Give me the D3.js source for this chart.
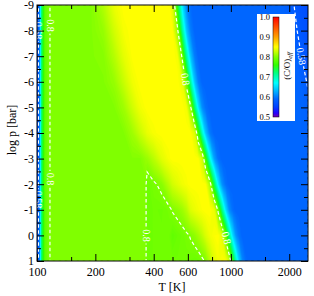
<!DOCTYPE html>
<html>
<head>
<meta charset="utf-8">
<script src="https://cdn.jsdelivr.net/npm/d3@7"></script>
<style>
  body { margin: 0; background: #fff; }
  #graf svg { display: block; font-family: 'Liberation Serif', 'Times New Roman', serif; }
  .eje path { display: none; }
  .eje line { stroke: #000; stroke-width: 1; }
  .eje text { font-size: 12px; fill: #000; font-family: 'Liberation Serif', 'Times New Roman', serif; }
</style>
</head>
<body>
<div id="graf"></div>
<script>
// I.
logP = [-9, -8, -7, -6, -5, -4, -3, -2, -1, 0, 1]
tempK = [100, 103, 106, 110, 115, 120, 150, 190, 220, 250, 280, 310, 340, 365, 370, 400, 440, 480,
         500, 530, 560, 590, 620, 650, 680, 710, 740, 780, 820, 860, 900, 940, 980, 1020, 1060, 1100,
         1150, 1200, 1300, 1500, 1800, 2100, 2300, 2500]

// (C/O)eff, una fila por cada log p (de -9 a 1), una columna por cada T
coRatio = [
  [.56, .595, .73, .785, .799, .802, .802, .802, .820, .843, .852, .852, .852, .852, .852, .852, .852, .851, .837, .750, .662, .609,
   .593, .59, .59, .59, .59, .59, .59, .59, .59, .59, .59, .59, .59, .59, .59, .59, .59, .59, .59, .581, .570, .565],
  [.56, .595, .73, .785, .799, .802, .802, .802, .810, .832, .848, .852, .852, .852, .852, .852, .852, .852, .851, .809, .716, .641,
   .603, .591, .59, .59, .59, .59, .59, .59, .59, .59, .59, .59, .59, .59, .59, .59, .59, .59, .59, .585, .575, .568],
  [.56, .595, .73, .785, .799, .802, .802, .802, .804, .821, .840, .851, .852, .852, .852, .852, .852, .852, .852, .848, .796, .708,
   .640, .603, .591, .59, .59, .59, .59, .59, .59, .59, .59, .59, .59, .59, .59, .59, .59, .59, .59, .59, .5805, .574],
  [.56, .595, .73, .785, .799, .802, .802, .802, .802, .810, .828, .845, .852, .852, .852, .852, .852, .852, .852, .852, .844, .788,
   .706, .640, .603, .591, .59, .59, .59, .59, .59, .59, .59, .59, .59, .59, .59, .59, .59, .59, .59, .59, .588, .578],
  [.56, .595, .73, .785, .799, .802, .802, .802, .802, .802, .813, .831, .846, .851, .852, .852, .852, .852, .852, .852, .852, .847,
   .805, .726, .658, .613, .597, .59, .59, .59, .59, .59, .59, .59, .59, .59, .59, .59, .59, .59, .59, .59, .59, .585],
  [.56, .595, .73, .785, .799, .802, .802, .802, .802, .802, .802, .813, .828, .839, .842, .849, .852, .852, .852, .852, .852, .852,
   .851, .837, .770, .696, .641, .601, .59, .59, .59, .59, .59, .59, .59, .59, .59, .59, .59, .59, .59, .59, .59, .588],
  [.56, .595, .73, .785, .799, .802, .802, .802, .802, .802, .802, .802, .802, .810, .811, .823, .839, .849, .852, .852, .852, .852,
   .852, .852, .850, .832, .768, .679, .622, .597, .59, .59, .59, .59, .59, .59, .59, .59, .59, .59, .59, .59, .59, .59],
  [.56, .595, .73, .785, .799, .802, .802, .802, .802, .802, .802, .802, .802, .8008, .790, .797, .805, .823, .832, .839, .845, .849,
   .852, .852, .852, .852, .851, .816, .734, .661, .614, .596, .59, .59, .59, .59, .59, .59, .59, .59, .59, .59, .59, .59],
  [.56, .595, .73, .785, .799, .802, .802, .802, .802, .802, .802, .802, .802, .8008, .790, .793, .792, .796, .8015, .806, .812, .822,
   .837, .843, .847, .850, .852, .852, .844, .794, .718, .655, .612, .596, .59, .59, .59, .59, .59, .59, .59, .59, .59, .59],
  [.56, .595, .73, .785, .799, .802, .802, .802, .802, .802, .802, .802, .802, .8008, .790, .793, .793, .793, .786, .790, .793, .797,
   .8015, .807, .815, .824, .835, .845, .850, .852, .840, .786, .714, .655, .616, .599, .59, .59, .59, .59, .59, .59, .59, .59],
  [.56, .595, .73, .785, .799, .802, .802, .802, .802, .802, .802, .802, .802, .8008, .790, .793, .793, .793, .793, .793, .793, .793,
   .792, .790, .791, .796, .802, .821, .838, .847, .850, .850, .830, .766, .702, .650, .607, .593, .59, .59, .59, .59, .59, .59]
]

// Contornos marcados y sus etiquetas
nivelesLinea = [0.58, 0.8]
etiquetas = [
  { texto: '0.58', T: 101.7, p: -8.0, ang: 90 },
  { texto: '0.58', T: 101.7, p: -1.4, ang: 90 },
  { texto: '0.8', T: 116.7, p: -8.2, ang: 90 },
  { texto: '0.8', T: 116.7, p: -2.2, ang: 90 },
  { texto: '0.8', T: 584, p: -6.1, ang: 80 },
  { texto: '0.8', T: 950, p: 0.1, ang: 76 },
  { texto: '0.8', T: 365, p: 0.0, ang: 90 },
  { texto: '0.58', T: 2310, p: -7.0, ang: 80 }
]

// Ejes
xMayores = [100, 200, 400, 600, 1000, 2000]
xMenores = [150, 300, 500, 800, 1500]
yMayores = [-9, -8, -7, -6, -5, -4, -3, -2, -1, 0, 1]
yMenores = [-8.5, -7.5, -6.5, -5.5, -4.5, -3.5, -2.5, -1.5, -0.5, 0.5]
barraTicks = [0.5, 0.6, 0.7, 0.8, 0.9, 1.0]

// Paleta (arcoíris)
cmapValores = [0.50, 0.52, 0.55, 0.59, 0.63, 0.67, 0.72, 0.76, 0.80, 0.83, 0.85, 0.90, 1.00]
cmapColores = ['#7000b0', '#2400ff', '#0040ff', '#0066ff', '#00b4ff', '#00ffff', '#00ff80',
               '#30ff00', '#80ff00', '#d0ff00', '#ffff00', '#ffa000', '#ff0000']

// II. Configuración
ancho_total = 314
alto_total = 296

svg = d3.select('#graf').append('svg')
        .attr('width', ancho_total)
        .attr('height', alto_total)

x = d3.scaleLog().domain([100, 2500]).range([37, 308])
y = d3.scaleLinear().domain([-9, 1]).range([5, 261])
color = d3.scaleLinear().domain(cmapValores).range(cmapColores).clamp(true)

// rejilla -> pixeles (las muestras de d3.contours están en i + 0.5)
function rejillaX(gx) {
  k = Math.max(0, Math.min(tempK.length - 1, gx - 0.5))
  i = Math.min(Math.floor(k), tempK.length - 2)
  f = k - i
  lt = Math.log10(tempK[i]) * (1 - f) + Math.log10(tempK[i + 1]) * f
  return x(Math.pow(10, lt))
}
function rejillaY(gy) {
  j = Math.max(0, Math.min(logP.length - 1, gy - 0.5))
  i = Math.min(Math.floor(j), logP.length - 2)
  f = j - i
  return y(logP[i] * (1 - f) + logP[i + 1] * f)
}
proyeccion = d3.geoTransform({
  point: function(px, py) { this.stream.point(rejillaX(px), rejillaY(py)) }
})
camino = d3.geoPath(proyeccion)

valores = coRatio.flat()

defs = svg.append('defs')
defs.append('clipPath').attr('id', 'recorte')
    .append('rect').attr('x', 37).attr('y', 5).attr('width', 271).attr('height', 256)
defs.append('clipPath').attr('id', 'recorteLinea')
    .append('rect').attr('x', 37.7).attr('y', 5.7).attr('width', 269.6).attr('height', 254.6)

mascara = defs.append('mask').attr('id', 'huecos')
              .attr('maskUnits', 'userSpaceOnUse')
              .attr('x', 0).attr('y', 0).attr('width', ancho_total).attr('height', alto_total)
mascara.append('rect').attr('width', ancho_total).attr('height', alto_total).attr('fill', '#fff')
mascara.selectAll('rect.hueco')
       .data(etiquetas)
       .enter()
       .append('rect')
         .attr('class', 'hueco')
         .attr('x', d => -(d.texto.length * 4.4 + 3) / 2)
         .attr('y', -3.5)
         .attr('width', d => d.texto.length * 4.4 + 3)
         .attr('height', 7)
         .attr('transform', d => `translate(${ x(d.T) }, ${ y(d.p) }) rotate(${ d.ang })`)
         .attr('fill', '#000')

// III. Mapa de color (bandas finas rellenas)
niveles = d3.range(0.5, 1.0, 0.0025)
bandas = d3.contours().size([tempK.length, logP.length]).thresholds(niveles)(valores)

svg.append('g')
   .attr('clip-path', 'url(#recorte)')
   .selectAll('path')
   .data(bandas)
   .enter()
   .append('path')
     .attr('d', camino)
     .attr('fill', d => color(d.value))

// IV. Líneas de contorno discontinuas
lineas = d3.contours().size([tempK.length, logP.length]).thresholds(nivelesLinea)(valores)

svg.append('g')
   .attr('clip-path', 'url(#recorteLinea)')
   .append('g')
   .attr('mask', 'url(#huecos)')
   .selectAll('path')
   .data(lineas)
   .enter()
   .append('path')
     .attr('d', camino)
     .attr('fill', 'none')
     .attr('stroke', '#fff')
     .attr('stroke-width', 1.2)
     .attr('stroke-dasharray', '3.5,2.5')

svg.append('g')
   .attr('clip-path', 'url(#recorte)')
   .selectAll('text')
   .data(etiquetas)
   .enter()
   .append('text')
     .attr('transform', d => `translate(${ x(d.T) }, ${ y(d.p) }) rotate(${ d.ang })`)
     .attr('text-anchor', 'middle')
     .attr('dy', '0.35em')
     .attr('fill', '#fff')
     .style('font-size', '10px')
     .text(d => d.texto)

// V. Ejes con marcas hacia dentro
svg.append('g').attr('class', 'eje').attr('transform', 'translate(0, 261)')
   .call(d3.axisBottom(x).tickValues(xMayores).tickSize(-7).tickPadding(6).tickFormat(d => d))
svg.append('g').attr('class', 'eje').attr('transform', 'translate(0, 261)')
   .call(d3.axisBottom(x).tickValues(xMenores).tickSize(-4).tickFormat(''))
svg.append('g').attr('class', 'eje').attr('transform', 'translate(0, 5)')
   .call(d3.axisTop(x).tickValues(xMayores).tickSize(-7).tickFormat(''))
svg.append('g').attr('class', 'eje').attr('transform', 'translate(0, 5)')
   .call(d3.axisTop(x).tickValues(xMenores).tickSize(-4).tickFormat(''))

svg.append('g').attr('class', 'eje').attr('transform', 'translate(37, 0)')
   .call(d3.axisLeft(y).tickValues(yMayores).tickSize(-7).tickPadding(3).tickFormat(d => String(d)))
svg.append('g').attr('class', 'eje').attr('transform', 'translate(37, 0)')
   .call(d3.axisLeft(y).tickValues(yMenores).tickSize(-4).tickFormat(''))
svg.append('g').attr('class', 'eje').attr('transform', 'translate(308, 0)')
   .call(d3.axisRight(y).tickValues(yMayores).tickSize(-7).tickFormat(''))
svg.append('g').attr('class', 'eje').attr('transform', 'translate(308, 0)')
   .call(d3.axisRight(y).tickValues(yMenores).tickSize(-4).tickFormat(''))

svg.append('rect')
   .attr('x', 37).attr('y', 5).attr('width', 271).attr('height', 256)
   .attr('fill', 'none').attr('stroke', '#000').attr('stroke-width', 1)

svg.append('text')
   .attr('x', 172).attr('y', 291)
   .attr('text-anchor', 'middle')
   .style('font-size', '12px')
   .text('T [K]')

svg.append('text')
   .attr('transform', 'translate(16, 130) rotate(-90)')
   .attr('text-anchor', 'middle')
   .style('font-size', '12px')
   .text('log p [bar]')

// VI. Barra de color
grad = defs.append('linearGradient').attr('id', 'barra')
           .attr('x1', 0).attr('y1', 1).attr('x2', 0).attr('y2', 0)
grad.selectAll('stop')
    .data(cmapValores)
    .enter()
    .append('stop')
      .attr('offset', d => (d - 0.5) / 0.5)
      .attr('stop-color', d => color(d))

yBarra = d3.scaleLinear().domain([0.5, 1.0]).range([117, 17])

svg.append('rect')
   .attr('x', 257).attr('y', 14).attr('width', 38).attr('height', 107)
   .attr('fill', '#fff')

svg.append('rect')
   .attr('x', 273).attr('y', yBarra(1.0))
   .attr('width', 6).attr('height', yBarra(0.5) - yBarra(1.0))
   .attr('fill', 'url(#barra)')
   .attr('stroke', '#000').attr('stroke-width', 0.5)

svg.append('g')
   .selectAll('text')
   .data(barraTicks)
   .enter()
   .append('text')
     .attr('x', 270)
     .attr('y', d => yBarra(d))
     .attr('dy', '0.35em')
     .attr('text-anchor', 'end')
     .style('font-size', '8.5px')
     .text(d => d.toFixed(1))

titulo = svg.append('text')
            .attr('transform', 'translate(290, 66) rotate(-90)')
            .attr('text-anchor', 'middle')
            .style('font-size', '9px')
titulo.append('tspan').text('(C/O)')
titulo.append('tspan').attr('dy', 2).style('font-size', '6.5px').style('font-style', 'italic').text('eff')
</script>
</body>
</html>
